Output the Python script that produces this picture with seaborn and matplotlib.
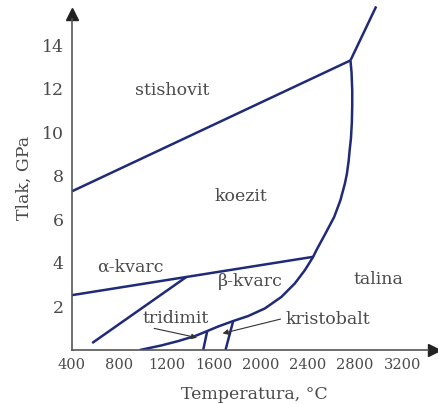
import matplotlib
matplotlib.use("Agg")
import matplotlib.pyplot as plt
import seaborn as sns
import pandas as pd

# --- data (temperature °C, pressure GPa) ---
stish_T = [400, 2760]
stish_P = [7.29, 13.30]
top_T = [2760, 2978]
top_P = [13.30, 15.78]
melt_T = [2760, 2769, 2775, 2775, 2772, 2764, 2753, 2745, 2730, 2713, 2675, 2622, 2548,
          2472, 2444, 2374, 2289, 2175, 2035, 1893, 1766, 1639, 1546, 1442, 1300, 1158, 975]
melt_P = [13.30, 12.77, 11.93, 11.24, 10.47, 9.71, 9.17, 8.70, 8.10, 7.65, 6.88, 6.11, 5.35,
          4.59, 4.28, 3.67, 3.06, 2.44, 1.91, 1.56, 1.33, 1.08, 0.87, 0.64, 0.41, 0.21, 0.0]
coes_T = [400, 2444]
coes_P = [2.52, 4.28]
ab_T = [571, 1368]
ab_P = [0.32, 3.35]
trid_T = [1546, 1512]
trid_P = [0.87, 0.0]
crist_T = [1766, 1701]
crist_P = [1.33, 0.0]

x_ticks = [400, 800, 1200, 1600, 2000, 2400, 2800, 3200]
y_ticks = [2, 4, 6, 8, 10, 12, 14]

labels = ["stishovit", "koezit", "α-kvarc", "β-kvarc", "talina", "tridimit", "kristobalt"]
label_T = [1247, 1831, 896, 1913, 2995, 1276, 2571]
label_P = [11.93, 7.03, 3.82, 3.13, 3.26, 1.45, 1.38]

segments = {
    "stish": (stish_T, stish_P), "top": (top_T, top_P), "melt": (melt_T, melt_P),
    "coes": (coes_T, coes_P), "ab": (ab_T, ab_P), "trid": (trid_T, trid_P),
    "crist": (crist_T, crist_P),
}
rows = []
for name, (ts, ps) in segments.items():
    for i, (t, p) in enumerate(zip(ts, ps)):
        rows.append({"seg": name, "order": i, "T": t, "P": p})
df = pd.DataFrame(rows)

sns.set_style("white")
plt.rcParams["font.family"] = ["DejaVu Serif", "DejaVu Sans"]

fig = plt.figure(figsize=(4.38, 4.04), dpi=100)
ax = fig.add_axes([72/438, 54/404, (436-72)/438, (350-6)/404])

line_color = "#1f2a78"
axis_color = "#555555"
text_color = "#4a4a4a"

sns.lineplot(data=df, x="T", y="P", units="seg", estimator=None, sort=False,
             color=line_color, lw=1.8, ax=ax, legend=False)
for l in ax.lines:
    l.set_solid_joinstyle("round")
    l.set_solid_capstyle("butt")

ax.set_xlim(400, 3485)
ax.set_ylim(0, 15.8)

for s in ["top", "right"]:
    ax.spines[s].set_visible(False)
ax.spines["left"].set_bounds(0, 15.2)
ax.spines["bottom"].set_bounds(400, 3420)
for s in ["left", "bottom"]:
    ax.spines[s].set_color(axis_color)
    ax.spines[s].set_linewidth(1.2)

ax.plot([400], [15.45], marker="^", color="#222222", markersize=9, clip_on=False)
ax.plot([3465], [0], marker=">", color="#222222", markersize=9, clip_on=False)

ax.set_xticks(x_ticks)
ax.set_xticklabels([str(v) for v in x_ticks])
ax.set_yticks(y_ticks)
ax.set_yticklabels([str(v) for v in y_ticks])
ax.tick_params(axis="x", direction="in", length=9, width=1.1, color=axis_color,
               labelsize=10.5, labelcolor=text_color, pad=6)
ax.tick_params(axis="y", direction="in", length=9, width=1.1, color=axis_color,
               labelsize=12.5, labelcolor=text_color, pad=6)

ax.set_xlabel("Temperatura, °C", fontsize=12.5, color=text_color, labelpad=10)
ax.set_ylabel("Tlak, GPa", fontsize=12.5, color=text_color, labelpad=6)

for lab, t, p in zip(labels, label_T, label_P):
    ax.text(t, p, lab, fontsize=12.5, color=text_color, ha="center", va="center")

ax.annotate("", xy=(1483, 0.54), xytext=(1073, 1.02),
            arrowprops=dict(arrowstyle="-|>", color="#333333", lw=0.8, mutation_scale=8))
ax.annotate("", xy=(1653, 0.73), xytext=(2190, 1.45),
            arrowprops=dict(arrowstyle="-|>", color="#333333", lw=0.8, mutation_scale=8))

fig.savefig("out.png", dpi=100)
